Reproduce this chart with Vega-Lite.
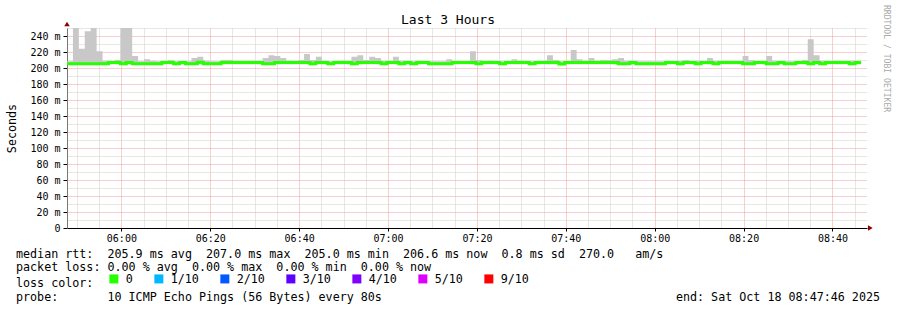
{
  "$schema": "https://vega.github.io/schema/vega-lite/v6.json",
  "width": 800,
  "height": 200,
  "autosize": {"type": "none"},
  "padding": {"left": 67, "top": 28, "right": 30, "bottom": 82},
  "title": {"text": "Last 3 Hours", "anchor": "middle", "frame": "group", "dx": -19, "dy": 24, "offset": 2, "font": "DejaVu Sans Mono", "fontSize": 13, "fontWeight": "normal", "color": "#000"},
  "config": {"view": {"stroke": null}, "font": "DejaVu Sans Mono"},
  "data": {
    "values": [
      {"t":"2025-10-18T05:47:46Z","lo":204.6,"hi":208.5,"med":205.3,"loss":"0"},
      {"t":"2025-10-18T05:49:06Z","lo":204.6,"hi":250,"med":205.3,"loss":"0"},
      {"t":"2025-10-18T05:50:26Z","lo":204.6,"hi":224,"med":205.3,"loss":"0"},
      {"t":"2025-10-18T05:51:46Z","lo":204.6,"hi":246,"med":205.3,"loss":"0"},
      {"t":"2025-10-18T05:53:06Z","lo":204.6,"hi":250,"med":205.3,"loss":"0"},
      {"t":"2025-10-18T05:54:26Z","lo":204.6,"hi":221,"med":205.3,"loss":"0"},
      {"t":"2025-10-18T05:55:46Z","lo":204.6,"hi":209,"med":205.3,"loss":"0"},
      {"t":"2025-10-18T05:57:06Z","lo":204.6,"hi":208.5,"med":206.8,"loss":"0"},
      {"t":"2025-10-18T05:58:26Z","lo":204.6,"hi":210,"med":206.8,"loss":"0"},
      {"t":"2025-10-18T05:59:46Z","lo":204.6,"hi":250,"med":205.3,"loss":"0"},
      {"t":"2025-10-18T06:01:06Z","lo":204.6,"hi":250,"med":206.8,"loss":"0"},
      {"t":"2025-10-18T06:02:26Z","lo":204.6,"hi":215,"med":205.3,"loss":"0"},
      {"t":"2025-10-18T06:03:46Z","lo":204.6,"hi":208.5,"med":205.3,"loss":"0"},
      {"t":"2025-10-18T06:05:06Z","lo":204.6,"hi":211,"med":205.3,"loss":"0"},
      {"t":"2025-10-18T06:06:26Z","lo":204.6,"hi":209,"med":205.3,"loss":"0"},
      {"t":"2025-10-18T06:07:46Z","lo":204.6,"hi":208.5,"med":205.3,"loss":"0"},
      {"t":"2025-10-18T06:09:06Z","lo":204.6,"hi":208.5,"med":206.8,"loss":"0"},
      {"t":"2025-10-18T06:10:26Z","lo":204.6,"hi":210,"med":206.8,"loss":"0"},
      {"t":"2025-10-18T06:11:46Z","lo":204.6,"hi":208.5,"med":205.3,"loss":"0"},
      {"t":"2025-10-18T06:13:06Z","lo":204.6,"hi":208.5,"med":206.8,"loss":"0"},
      {"t":"2025-10-18T06:14:26Z","lo":204.6,"hi":208.5,"med":205.3,"loss":"0"},
      {"t":"2025-10-18T06:15:46Z","lo":204.6,"hi":212.5,"med":205.3,"loss":"0"},
      {"t":"2025-10-18T06:17:06Z","lo":204.6,"hi":214,"med":207.3,"loss":"0"},
      {"t":"2025-10-18T06:18:26Z","lo":204.6,"hi":209,"med":205.3,"loss":"0"},
      {"t":"2025-10-18T06:19:46Z","lo":204.6,"hi":208.5,"med":205.3,"loss":"0"},
      {"t":"2025-10-18T06:21:06Z","lo":204.6,"hi":208.5,"med":205.3,"loss":"0"},
      {"t":"2025-10-18T06:22:26Z","lo":204.6,"hi":210,"med":206.8,"loss":"0"},
      {"t":"2025-10-18T06:23:46Z","lo":204.6,"hi":210,"med":206.8,"loss":"0"},
      {"t":"2025-10-18T06:25:06Z","lo":204.6,"hi":209,"med":206.8,"loss":"0"},
      {"t":"2025-10-18T06:26:26Z","lo":204.6,"hi":208.5,"med":206.8,"loss":"0"},
      {"t":"2025-10-18T06:27:46Z","lo":204.6,"hi":208.5,"med":206.8,"loss":"0"},
      {"t":"2025-10-18T06:29:06Z","lo":204.6,"hi":208.5,"med":206.8,"loss":"0"},
      {"t":"2025-10-18T06:30:26Z","lo":204.6,"hi":208.5,"med":206.8,"loss":"0"},
      {"t":"2025-10-18T06:31:46Z","lo":204.6,"hi":212.5,"med":205.3,"loss":"0"},
      {"t":"2025-10-18T06:33:06Z","lo":204.6,"hi":216,"med":205.3,"loss":"0"},
      {"t":"2025-10-18T06:34:26Z","lo":204.6,"hi":215,"med":206.8,"loss":"0"},
      {"t":"2025-10-18T06:35:46Z","lo":204.6,"hi":212.5,"med":206.8,"loss":"0"},
      {"t":"2025-10-18T06:37:06Z","lo":204.6,"hi":209,"med":206.8,"loss":"0"},
      {"t":"2025-10-18T06:38:26Z","lo":204.6,"hi":208.5,"med":206.8,"loss":"0"},
      {"t":"2025-10-18T06:39:46Z","lo":204.6,"hi":210,"med":206.8,"loss":"0"},
      {"t":"2025-10-18T06:41:06Z","lo":204.6,"hi":217.5,"med":206.8,"loss":"0"},
      {"t":"2025-10-18T06:42:26Z","lo":204.6,"hi":210,"med":205.3,"loss":"0"},
      {"t":"2025-10-18T06:43:46Z","lo":204.6,"hi":214,"med":206.8,"loss":"0"},
      {"t":"2025-10-18T06:45:06Z","lo":204.6,"hi":209,"med":206.8,"loss":"0"},
      {"t":"2025-10-18T06:46:26Z","lo":204.6,"hi":208.5,"med":205.3,"loss":"0"},
      {"t":"2025-10-18T06:47:46Z","lo":204.6,"hi":208.5,"med":206.8,"loss":"0"},
      {"t":"2025-10-18T06:49:06Z","lo":204.6,"hi":209,"med":206.8,"loss":"0"},
      {"t":"2025-10-18T06:50:26Z","lo":204.6,"hi":208.5,"med":206.8,"loss":"0"},
      {"t":"2025-10-18T06:51:46Z","lo":204.6,"hi":214,"med":205.3,"loss":"0"},
      {"t":"2025-10-18T06:53:06Z","lo":204.6,"hi":216,"med":206.8,"loss":"0"},
      {"t":"2025-10-18T06:54:26Z","lo":204.6,"hi":210,"med":206.8,"loss":"0"},
      {"t":"2025-10-18T06:55:46Z","lo":204.6,"hi":214,"med":206.8,"loss":"0"},
      {"t":"2025-10-18T06:57:06Z","lo":204.6,"hi":212.5,"med":206.8,"loss":"0"},
      {"t":"2025-10-18T06:58:26Z","lo":204.6,"hi":209,"med":205.3,"loss":"0"},
      {"t":"2025-10-18T06:59:46Z","lo":204.6,"hi":208.5,"med":206.8,"loss":"0"},
      {"t":"2025-10-18T07:01:06Z","lo":204.6,"hi":214,"med":206.8,"loss":"0"},
      {"t":"2025-10-18T07:02:26Z","lo":204.6,"hi":209,"med":205.3,"loss":"0"},
      {"t":"2025-10-18T07:03:46Z","lo":204.6,"hi":208.5,"med":206.8,"loss":"0"},
      {"t":"2025-10-18T07:05:06Z","lo":204.6,"hi":208.5,"med":205.3,"loss":"0"},
      {"t":"2025-10-18T07:06:26Z","lo":204.6,"hi":209,"med":206.8,"loss":"0"},
      {"t":"2025-10-18T07:07:46Z","lo":204.6,"hi":208.5,"med":206.8,"loss":"0"},
      {"t":"2025-10-18T07:09:06Z","lo":204.6,"hi":208.5,"med":205.3,"loss":"0"},
      {"t":"2025-10-18T07:10:26Z","lo":204.6,"hi":208.5,"med":205.3,"loss":"0"},
      {"t":"2025-10-18T07:11:46Z","lo":204.6,"hi":208.5,"med":205.3,"loss":"0"},
      {"t":"2025-10-18T07:13:06Z","lo":204.6,"hi":211,"med":205.3,"loss":"0"},
      {"t":"2025-10-18T07:14:26Z","lo":204.6,"hi":208.5,"med":206.8,"loss":"0"},
      {"t":"2025-10-18T07:15:46Z","lo":204.6,"hi":208.5,"med":206.8,"loss":"0"},
      {"t":"2025-10-18T07:17:06Z","lo":204.6,"hi":208.5,"med":206.8,"loss":"0"},
      {"t":"2025-10-18T07:18:26Z","lo":204.6,"hi":221,"med":206.8,"loss":"0"},
      {"t":"2025-10-18T07:19:46Z","lo":204.6,"hi":210,"med":205.3,"loss":"0"},
      {"t":"2025-10-18T07:21:06Z","lo":204.6,"hi":208.5,"med":206.8,"loss":"0"},
      {"t":"2025-10-18T07:22:26Z","lo":204.6,"hi":209,"med":206.8,"loss":"0"},
      {"t":"2025-10-18T07:23:46Z","lo":204.6,"hi":208.5,"med":206.8,"loss":"0"},
      {"t":"2025-10-18T07:25:06Z","lo":204.6,"hi":208.5,"med":205.3,"loss":"0"},
      {"t":"2025-10-18T07:26:26Z","lo":204.6,"hi":208.5,"med":206.8,"loss":"0"},
      {"t":"2025-10-18T07:27:46Z","lo":204.6,"hi":211,"med":206.8,"loss":"0"},
      {"t":"2025-10-18T07:29:06Z","lo":204.6,"hi":209,"med":206.8,"loss":"0"},
      {"t":"2025-10-18T07:30:26Z","lo":204.6,"hi":208.5,"med":206.8,"loss":"0"},
      {"t":"2025-10-18T07:31:46Z","lo":204.6,"hi":208.5,"med":205.3,"loss":"0"},
      {"t":"2025-10-18T07:33:06Z","lo":204.6,"hi":208.5,"med":206.8,"loss":"0"},
      {"t":"2025-10-18T07:34:26Z","lo":204.6,"hi":209,"med":206.8,"loss":"0"},
      {"t":"2025-10-18T07:35:46Z","lo":204.6,"hi":216,"med":206.8,"loss":"0"},
      {"t":"2025-10-18T07:37:06Z","lo":204.6,"hi":210,"med":206.8,"loss":"0"},
      {"t":"2025-10-18T07:38:26Z","lo":204.6,"hi":208.5,"med":205.0,"loss":"0"},
      {"t":"2025-10-18T07:39:46Z","lo":204.6,"hi":208.5,"med":206.8,"loss":"0"},
      {"t":"2025-10-18T07:41:06Z","lo":204.6,"hi":222.5,"med":206.8,"loss":"0"},
      {"t":"2025-10-18T07:42:26Z","lo":204.6,"hi":211,"med":206.8,"loss":"0"},
      {"t":"2025-10-18T07:43:46Z","lo":204.6,"hi":209,"med":206.8,"loss":"0"},
      {"t":"2025-10-18T07:45:06Z","lo":204.6,"hi":212.5,"med":206.8,"loss":"0"},
      {"t":"2025-10-18T07:46:26Z","lo":204.6,"hi":209,"med":206.8,"loss":"0"},
      {"t":"2025-10-18T07:47:46Z","lo":204.6,"hi":210,"med":206.8,"loss":"0"},
      {"t":"2025-10-18T07:49:06Z","lo":204.6,"hi":210,"med":206.8,"loss":"0"},
      {"t":"2025-10-18T07:50:26Z","lo":204.6,"hi":211,"med":206.8,"loss":"0"},
      {"t":"2025-10-18T07:51:46Z","lo":204.6,"hi":212.5,"med":205.3,"loss":"0"},
      {"t":"2025-10-18T07:53:06Z","lo":204.6,"hi":209,"med":205.3,"loss":"0"},
      {"t":"2025-10-18T07:54:26Z","lo":204.6,"hi":209,"med":206.8,"loss":"0"},
      {"t":"2025-10-18T07:55:46Z","lo":204.6,"hi":208.5,"med":205.3,"loss":"0"},
      {"t":"2025-10-18T07:57:06Z","lo":204.6,"hi":208.5,"med":205.3,"loss":"0"},
      {"t":"2025-10-18T07:58:26Z","lo":204.6,"hi":208.5,"med":205.3,"loss":"0"},
      {"t":"2025-10-18T07:59:46Z","lo":204.6,"hi":208.5,"med":205.3,"loss":"0"},
      {"t":"2025-10-18T08:01:06Z","lo":204.6,"hi":208.5,"med":205.3,"loss":"0"},
      {"t":"2025-10-18T08:02:26Z","lo":204.6,"hi":208.5,"med":206.8,"loss":"0"},
      {"t":"2025-10-18T08:03:46Z","lo":204.6,"hi":208.5,"med":206.8,"loss":"0"},
      {"t":"2025-10-18T08:05:06Z","lo":204.6,"hi":209,"med":205.3,"loss":"0"},
      {"t":"2025-10-18T08:06:26Z","lo":204.6,"hi":210,"med":206.8,"loss":"0"},
      {"t":"2025-10-18T08:07:46Z","lo":204.6,"hi":208.5,"med":206.8,"loss":"0"},
      {"t":"2025-10-18T08:09:06Z","lo":204.6,"hi":209,"med":205.3,"loss":"0"},
      {"t":"2025-10-18T08:10:26Z","lo":204.6,"hi":208.5,"med":206.8,"loss":"0"},
      {"t":"2025-10-18T08:11:46Z","lo":204.6,"hi":212.5,"med":206.8,"loss":"0"},
      {"t":"2025-10-18T08:13:06Z","lo":204.6,"hi":209,"med":205.3,"loss":"0"},
      {"t":"2025-10-18T08:14:26Z","lo":204.6,"hi":208.5,"med":206.8,"loss":"0"},
      {"t":"2025-10-18T08:15:46Z","lo":204.6,"hi":208.5,"med":206.8,"loss":"0"},
      {"t":"2025-10-18T08:17:06Z","lo":204.6,"hi":208.5,"med":206.8,"loss":"0"},
      {"t":"2025-10-18T08:18:26Z","lo":204.6,"hi":208.5,"med":206.8,"loss":"0"},
      {"t":"2025-10-18T08:19:46Z","lo":204.6,"hi":215,"med":205.3,"loss":"0"},
      {"t":"2025-10-18T08:21:06Z","lo":204.6,"hi":210,"med":205.3,"loss":"0"},
      {"t":"2025-10-18T08:22:26Z","lo":204.6,"hi":208.5,"med":206.8,"loss":"0"},
      {"t":"2025-10-18T08:23:46Z","lo":204.6,"hi":208.5,"med":206.8,"loss":"0"},
      {"t":"2025-10-18T08:25:06Z","lo":204.6,"hi":215,"med":205.3,"loss":"0"},
      {"t":"2025-10-18T08:26:26Z","lo":204.6,"hi":209,"med":205.3,"loss":"0"},
      {"t":"2025-10-18T08:27:46Z","lo":204.6,"hi":208.5,"med":206.8,"loss":"0"},
      {"t":"2025-10-18T08:29:06Z","lo":204.6,"hi":208.5,"med":205.3,"loss":"0"},
      {"t":"2025-10-18T08:30:26Z","lo":204.6,"hi":208.5,"med":205.3,"loss":"0"},
      {"t":"2025-10-18T08:31:46Z","lo":204.6,"hi":208.5,"med":206.8,"loss":"0"},
      {"t":"2025-10-18T08:33:06Z","lo":204.6,"hi":210,"med":206.8,"loss":"0"},
      {"t":"2025-10-18T08:34:26Z","lo":204.6,"hi":236,"med":205.3,"loss":"0"},
      {"t":"2025-10-18T08:35:46Z","lo":204.6,"hi":216,"med":206.8,"loss":"0"},
      {"t":"2025-10-18T08:37:06Z","lo":204.6,"hi":209,"med":205.3,"loss":"0"},
      {"t":"2025-10-18T08:38:26Z","lo":204.6,"hi":208.5,"med":206.8,"loss":"0"},
      {"t":"2025-10-18T08:39:46Z","lo":204.6,"hi":208.5,"med":206.8,"loss":"0"},
      {"t":"2025-10-18T08:41:06Z","lo":204.6,"hi":208.5,"med":206.8,"loss":"0"},
      {"t":"2025-10-18T08:42:26Z","lo":204.6,"hi":208.5,"med":206.8,"loss":"0"},
      {"t":"2025-10-18T08:43:46Z","lo":204.6,"hi":209,"med":205.3,"loss":"0"},
      {"t":"2025-10-18T08:45:06Z","lo":204.6,"hi":208.5,"med":206.8,"loss":"0"},
      {"t":"2025-10-18T08:46:26Z","lo":204.6,"hi":208.5,"med":206.8,"loss":"0"}
    ]
  },
  "layer": [
    {
      "mark": {"type": "area", "interpolate": "step-after", "color": "#c8c8c8", "clip": true},
      "encoding": {
        "x": {
          "field": "t", "type": "temporal",
          "scale": {"type": "utc", "domain": [1760766466000, 1760777266000]},
          "axis": {
            "tickCount": 36,
            "labelExpr": "utcminutes(datum.value) % 20 === 0 ? utcFormat(datum.value, '%H:%M') : ''",
            "labelFont": "DejaVu Sans Mono", "labelFontSize": 10, "labelColor": "#000", "labelPadding": 2,
            "labelFlush": false, "labelOverlap": false,
            "grid": true,
            "gridColor": {"condition": {"test": "utcminutes(datum.value) % 20 === 0", "value": "#f29c9c"}, "value": "#cfcfcf"},
            "gridDash": [1, 1],
            "tickSize": 3,
            "tickColor": {"condition": {"test": "utcminutes(datum.value) % 20 === 0", "value": "#000"}, "value": "transparent"},
            "domainColor": "#000",
            "title": null
          }
        },
        "y": {
          "field": "hi", "type": "quantitative",
          "scale": {"domain": [0, 250], "nice": false},
          "axis": {
            "tickCount": 25,
            "labelExpr": "datum.value % 20 === 0 ? (datum.value === 0 ? '0 ' : datum.value + ' m') : ''",
            "labelFont": "DejaVu Sans Mono", "labelFontSize": 10, "labelColor": "#000", "labelPadding": 3, "labelOverlap": false,
            "grid": true,
            "gridColor": {"condition": {"test": "datum.value % 20 === 0", "value": "#f29c9c"}, "value": "#cfcfcf"},
            "gridDash": [1, 1],
            "tickSize": 4,
            "tickColor": {"condition": {"test": "datum.value % 20 === 0", "value": "#000"}, "value": "transparent"},
            "domainColor": "#777",
            "title": "Seconds", "titleX": -56, "titleY": 100, "titleAlign": "center", "titleBaseline": "middle",
            "titleFont": "DejaVu Sans Mono", "titleFontSize": 11.7, "titleFontWeight": "normal", "titleColor": "#000"
          }
        },
        "y2": {"field": "lo"}
      }
    },
    {
      "mark": {"type": "line", "interpolate": "step-after", "strokeWidth": 3},
      "encoding": {
        "x": {"field": "t", "type": "temporal"},
        "y": {"field": "med", "type": "quantitative"},
        "color": {
          "field": "loss", "type": "nominal",
          "scale": {"domain": ["0", "1/10", "2/10", "3/10", "4/10", "5/10", "9/10"], "range": ["#26ff00", "#00b8ff", "#0059ff", "#5e00ff", "#7e00ff", "#dd00ff", "#ff0000"]},
          "legend": {
            "orient": "none", "legendX": -51, "legendY": 245, "direction": "horizontal",
            "title": "loss color:", "titleOrient": "left", "titlePadding": 14,
            "titleFont": "DejaVu Sans Mono", "titleFontSize": 11.7, "titleFontWeight": "normal", "titleColor": "#000",
            "labelFont": "DejaVu Sans Mono", "labelFontSize": 11.7, "labelColor": "#000", "labelOffset": 6, "columnPadding": 10,
            "symbolType": "square", "symbolSize": 4, "symbolStrokeWidth": 7, "padding": 0
          }
        }
      }
    },
    {
      "data": {"values": [{}]},
      "mark": {"type": "text", "align": "left", "baseline": "alphabetic", "font": "DejaVu Sans Mono", "fontSize": 11.7, "color": "#000"},
      "encoding": {
        "x": {"datum": 1760765777500, "type": "temporal"},
        "y": {"datum": -37.5, "type": "quantitative"},
        "text": {"value": "median rtt:\u00a0\u00a0205.9 ms avg\u00a0\u00a0207.0 ms max\u00a0\u00a0205.0 ms min\u00a0\u00a0206.6 ms now\u00a0\u00a00.8 ms sd\u00a0\u00a0270.0\u00a0\u00a0\u00a0am/s"}
      }
    },
    {
      "data": {"values": [{}]},
      "mark": {"type": "text", "align": "left", "baseline": "alphabetic", "font": "DejaVu Sans Mono", "fontSize": 11.7, "color": "#000"},
      "encoding": {
        "x": {"datum": 1760765777500, "type": "temporal"},
        "y": {"datum": -54, "type": "quantitative"},
        "text": {"value": "packet loss: 0.00 % avg\u00a0\u00a00.00 % max\u00a0\u00a00.00 % min\u00a0\u00a00.00 % now"}
      }
    },
    {
      "data": {"values": [{}]},
      "mark": {"type": "text", "align": "left", "baseline": "alphabetic", "font": "DejaVu Sans Mono", "fontSize": 11.7, "color": "#000"},
      "encoding": {
        "x": {"datum": 1760765777500, "type": "temporal"},
        "y": {"datum": -90.75, "type": "quantitative"},
        "text": {"value": "probe:\u00a0\u00a0\u00a0\u00a0\u00a0\u00a0\u00a010 ICMP Echo Pings (56 Bytes) every 80s"}
      }
    },
    {
      "data": {"values": [{}]},
      "mark": {"type": "text", "align": "right", "baseline": "alphabetic", "font": "DejaVu Sans Mono", "fontSize": 11.7, "color": "#000"},
      "encoding": {
        "x": {"datum": 1760777441500, "type": "temporal"},
        "y": {"datum": -90.75, "type": "quantitative"},
        "text": {"value": "end: Sat Oct 18 08:47:46 2025"}
      }
    },
    {
      "data": {"values": [{}]},
      "mark": {"type": "text", "align": "left", "baseline": "middle", "angle": 90, "font": "DejaVu Sans Mono", "fontSize": 8.1, "color": "#aaaaaa"},
      "encoding": {
        "x": {"datum": 1760777522500, "type": "temporal"},
        "y": {"datum": 278.75, "type": "quantitative"},
        "text": {"value": "RRDTOOL / TOBI OETIKER"}
      }
    },
    {
      "data": {"values": [{}]},
      "mark": {"type": "point", "shape": "triangle-up", "filled": true, "size": 30, "color": "#8b0000", "opacity": 1},
      "encoding": {
        "x": {"datum": 1760766466000, "type": "temporal"},
        "y": {"datum": 255, "type": "quantitative"}
      }
    },
    {
      "data": {"values": [{}]},
      "mark": {"type": "point", "shape": "triangle-right", "filled": true, "size": 30, "color": "#8b0000", "opacity": 1},
      "encoding": {
        "x": {"datum": 1760777311000, "type": "temporal"},
        "y": {"datum": 0, "type": "quantitative"}
      }
    }
  ]
}
